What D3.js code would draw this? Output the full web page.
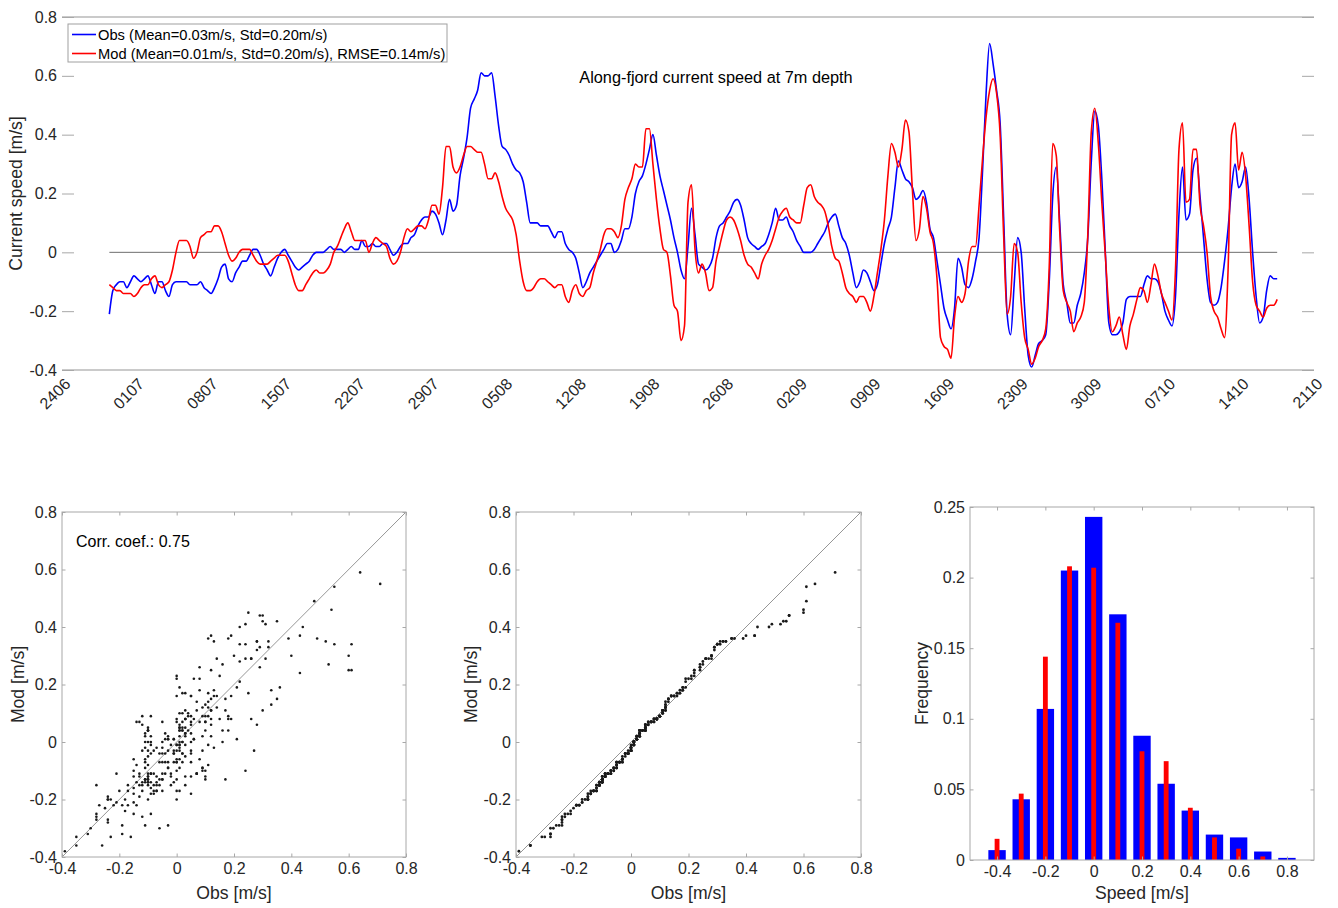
<!DOCTYPE html>
<html>
<head>
<meta charset="utf-8">
<script src="https://cdn.jsdelivr.net/npm/d3@7"></script>
<style>
  html, body { margin: 0; padding: 0; background: #fff; }
  svg { display: block; font-family: "Liberation Sans", Arial, Helvetica, sans-serif; }
</style>
</head>
<body>
<svg id="fig" width="1338" height="908"></svg>
<script>
// ---------------- data ----------------
// Along-fjord current at 7 m depth, sampled every 8 hours.
// Time axis is counted in days from 24 June.
const sampleStartDay = 4.5;
const samplesPerDay = 3;

const obsSpeed = [
  -0.21,-0.13,-0.11,-0.10,-0.10,-0.12,-0.10,-0.08,-0.09,-0.10,
  -0.09,-0.08,-0.11,-0.14,-0.10,-0.10,-0.13,-0.15,-0.11,-0.10,
  -0.10,-0.10,-0.10,-0.11,-0.11,-0.11,-0.10,-0.12,-0.13,-0.14,
  -0.12,-0.09,-0.05,-0.04,-0.09,-0.10,-0.07,-0.05,-0.03,-0.03,
  -0.01,0.01,0.01,-0.01,-0.04,-0.06,-0.08,-0.05,-0.02,0.00,
  0.01,-0.01,-0.03,-0.05,-0.06,-0.05,-0.04,-0.03,-0.01,0.00,
  0.00,0.00,0.01,0.02,0.01,0.01,0.01,0.00,0.01,0.02,
  0.01,0.01,0.04,0.02,0.02,0.03,0.02,0.02,0.03,0.03,
  0.01,-0.01,0.00,0.02,0.03,0.03,0.05,0.06,0.09,0.11,
  0.12,0.12,0.14,0.13,0.10,0.06,0.11,0.18,0.14,0.16,
  0.26,0.32,0.39,0.49,0.52,0.55,0.61,0.60,0.60,0.61,
  0.53,0.43,0.36,0.35,0.33,0.30,0.28,0.27,0.24,0.17,
  0.10,0.10,0.10,0.09,0.09,0.09,0.07,0.05,0.07,0.07,
  0.03,0.01,0.00,-0.02,-0.07,-0.12,-0.10,-0.07,-0.05,-0.03,
  -0.01,0.01,0.03,0.03,0.00,0.01,0.04,0.08,0.08,0.12,
  0.20,0.24,0.26,0.30,0.35,0.40,0.33,0.26,0.21,0.16,
  0.11,0.05,0.00,-0.06,-0.09,0.02,0.15,0.06,-0.04,-0.05,
  -0.06,-0.05,-0.02,0.05,0.09,0.10,0.12,0.14,0.17,0.18,
  0.16,0.11,0.05,0.03,0.02,0.01,0.02,0.03,0.06,0.10,
  0.15,0.11,0.11,0.12,0.09,0.07,0.04,0.02,0.00,0.00,
  0.00,0.01,0.03,0.05,0.07,0.10,0.12,0.13,0.09,0.05,
  0.03,-0.01,-0.07,-0.12,-0.10,-0.06,-0.07,-0.10,-0.13,-0.11,
  -0.04,0.03,0.08,0.12,0.22,0.31,0.28,0.25,0.24,0.22,
  0.18,0.19,0.21,0.17,0.08,0.05,-0.03,-0.11,-0.19,-0.23,
  -0.26,-0.19,-0.02,-0.05,-0.11,-0.12,-0.09,-0.03,0.05,0.28,
  0.54,0.71,0.64,0.55,0.44,0.12,-0.21,-0.28,-0.11,0.05,
  0.00,-0.19,-0.35,-0.39,-0.35,-0.31,-0.30,-0.28,-0.10,0.19,
  0.29,0.10,-0.11,-0.17,-0.24,-0.24,-0.18,-0.14,-0.07,0.05,
  0.31,0.48,0.43,0.25,0.00,-0.24,-0.28,-0.28,-0.27,-0.24,
  -0.16,-0.15,-0.15,-0.15,-0.15,-0.11,-0.08,-0.09,-0.09,-0.10,
  -0.14,-0.20,-0.23,-0.25,-0.15,0.13,0.29,0.11,0.13,0.28,
  0.32,0.19,0.05,-0.09,-0.17,-0.18,-0.17,-0.12,-0.03,0.08,
  0.22,0.30,0.22,0.24,0.29,0.18,0.00,-0.15,-0.24,-0.22,
  -0.13,-0.08,-0.09,-0.09
];

const modSpeed = [
  -0.11,-0.12,-0.13,-0.13,-0.14,-0.14,-0.14,-0.15,-0.14,-0.12,
  -0.11,-0.11,-0.09,-0.08,-0.11,-0.12,-0.11,-0.10,-0.06,0.00,
  0.04,0.04,0.04,0.02,-0.02,0.00,0.05,0.06,0.07,0.07,
  0.09,0.09,0.07,0.03,-0.01,-0.03,-0.02,0.00,0.01,0.01,
  0.01,-0.01,-0.03,-0.04,-0.04,-0.04,-0.03,-0.02,-0.01,-0.01,
  -0.01,-0.03,-0.07,-0.11,-0.13,-0.13,-0.11,-0.09,-0.07,-0.06,
  -0.07,-0.07,-0.06,-0.04,0.00,0.02,0.05,0.08,0.10,0.07,
  0.04,0.04,0.04,0.04,0.00,0.03,0.05,0.04,0.03,0.02,
  -0.02,-0.04,-0.03,0.00,0.05,0.08,0.07,0.08,0.09,0.09,
  0.08,0.11,0.16,0.16,0.13,0.22,0.36,0.36,0.29,0.27,
  0.29,0.33,0.36,0.36,0.35,0.34,0.34,0.30,0.25,0.25,
  0.27,0.24,0.19,0.15,0.13,0.11,0.06,-0.03,-0.10,-0.13,
  -0.13,-0.12,-0.10,-0.09,-0.09,-0.10,-0.11,-0.12,-0.11,-0.11,
  -0.15,-0.17,-0.13,-0.11,-0.14,-0.15,-0.13,-0.12,-0.07,-0.03,
  0.01,0.06,0.08,0.08,0.07,0.05,0.09,0.18,0.22,0.25,
  0.30,0.29,0.29,0.42,0.42,0.30,0.18,0.08,0.01,0.00,
  -0.08,-0.18,-0.20,-0.30,-0.25,0.17,0.23,0.01,-0.07,-0.04,
  -0.07,-0.13,-0.12,-0.03,0.02,0.07,0.11,0.12,0.11,0.08,
  0.04,-0.01,-0.04,-0.05,-0.07,-0.09,-0.04,-0.01,0.01,0.04,
  0.08,0.12,0.14,0.15,0.12,0.11,0.10,0.10,0.16,0.22,
  0.23,0.19,0.17,0.16,0.14,0.09,0.02,-0.02,-0.03,-0.07,
  -0.12,-0.14,-0.15,-0.17,-0.15,-0.15,-0.17,-0.20,-0.15,-0.07,
  0.01,0.11,0.26,0.37,0.34,0.29,0.35,0.45,0.41,0.21,
  0.04,0.08,0.19,0.15,0.07,0.03,-0.09,-0.29,-0.32,-0.33,
  -0.36,-0.22,-0.15,-0.17,-0.14,-0.03,0.02,0.02,0.16,0.32,
  0.46,0.55,0.59,0.54,0.40,0.06,-0.21,-0.15,0.03,0.00,
  -0.17,-0.29,-0.33,-0.38,-0.36,-0.32,-0.30,-0.26,-0.05,0.37,
  0.33,0.07,-0.13,-0.17,-0.20,-0.27,-0.24,-0.22,-0.17,0.06,
  0.41,0.49,0.37,0.17,-0.01,-0.19,-0.27,-0.25,-0.22,-0.28,
  -0.33,-0.25,-0.21,-0.16,-0.12,-0.13,-0.17,-0.11,-0.04,-0.08,
  -0.14,-0.17,-0.20,-0.23,-0.06,0.35,0.44,0.17,0.18,0.35,
  0.35,0.16,0.09,0.00,-0.15,-0.20,-0.22,-0.26,-0.29,-0.06,
  0.40,0.44,0.28,0.34,0.26,0.09,-0.10,-0.18,-0.20,-0.22,
  -0.19,-0.18,-0.18,-0.16
];

// Weekly date ticks (ddmm), first one is 24 June
const weekTicks = ["2406","0107","0807","1507","2207","2907","0508","1208","1908",
                   "2608","0209","0909","1609","2309","3009","0710","1410","2110"];
const speedTicks = [-0.4, -0.2, 0, 0.2, 0.4, 0.6, 0.8];

// Histogram of speeds (relative frequency per 0.1 m/s bin)
const histBins = [-0.4, -0.3, -0.2, -0.1, 0, 0.1, 0.2, 0.3, 0.4, 0.5, 0.6, 0.7, 0.8];
const obsFreq  = [0.007, 0.043, 0.107, 0.205, 0.243, 0.174, 0.088, 0.054, 0.035, 0.018, 0.016, 0.006, 0.0015];
const modFreq  = [0.015, 0.047, 0.144, 0.208, 0.207, 0.168, 0.077, 0.070, 0.037, 0.016, 0.008, 0.0025, 0];
const freqTicks = [0, 0.05, 0.1, 0.15, 0.2, 0.25];
const histXTicks = [-0.4, -0.2, 0, 0.2, 0.4, 0.6, 0.8];

// ---------------- style ----------------
const FONT = '"Liberation Sans", Arial, Helvetica, sans-serif';
const tickCol = "#262626";
const frameCol = "#a8a8a8";
const obsCol = "#0000ff";
const modCol = "#ff0000";

const svg = d3.select("#fig");

function styleAxis(g, size) {
  g.attr("font-family", FONT).attr("font-size", size);
  g.selectAll(".tick line").attr("stroke", frameCol);
  g.selectAll(".tick text").attr("fill", tickCol);
  g.select(".domain").remove();
}

// ---------------- time series ----------------
const dayOf = i => sampleStartDay + i / samplesPerDay;
const xT = d3.scaleLinear().domain([0, 119]).range([62, 1314]);
const yT = d3.scaleLinear().domain([-0.4, 0.8]).range([370, 17]);

const tsPanel = svg.append("g");

// frame: top and bottom rules
[0.8, -0.4].forEach(v => {
  tsPanel.append("line")
    .attr("x1", xT(0)).attr("x2", xT(119))
    .attr("y1", yT(v)).attr("y2", yT(v))
    .attr("stroke", "#b8b8b8").attr("stroke-width", 1.3);
});

tsPanel.append("g").attr("transform", `translate(${xT(0)},0)`)
  .call(d3.axisLeft(yT).tickValues(speedTicks).tickFormat(String)
        .tickSizeInner(-12).tickSizeOuter(0).tickPadding(5))
  .call(g => styleAxis(g, 16));
tsPanel.append("g").attr("transform", `translate(${xT(119)},0)`)
  .call(d3.axisRight(yT).tickValues(speedTicks).tickFormat("")
        .tickSizeInner(-12).tickSizeOuter(0))
  .call(g => styleAxis(g, 16));

const weekDays = weekTicks.map((_, k) => 7 * k);
tsPanel.append("g").attr("transform", `translate(0,${yT(-0.4)})`)
  .call(d3.axisBottom(xT).tickValues(weekDays).tickFormat((d, k) => weekTicks[k]).tickSize(0))
  .call(g => styleAxis(g, 16))
  .call(g => g.selectAll(".tick text")
    .attr("x", 0).attr("y", 0).attr("dy", "0.35em")
    .attr("text-anchor", "end")
    .attr("transform", "translate(5,11) rotate(-45)"));

// zero reference over the record
const nT = obsSpeed.length;
tsPanel.append("line")
  .attr("x1", xT(dayOf(0))).attr("x2", xT(dayOf(nT - 1)))
  .attr("y1", yT(0)).attr("y2", yT(0))
  .attr("stroke", "#6e6e6e").attr("stroke-width", 1);

const tsLine = d3.line()
  .x((d, i) => xT(dayOf(i)))
  .y(d => yT(d))
  .curve(d3.curveMonotoneX);

tsPanel.append("path").datum(obsSpeed)
  .attr("d", tsLine).attr("fill", "none")
  .attr("stroke", obsCol).attr("stroke-width", 1.6).attr("stroke-linejoin", "round");
tsPanel.append("path").datum(modSpeed)
  .attr("d", tsLine).attr("fill", "none")
  .attr("stroke", modCol).attr("stroke-width", 1.6).attr("stroke-linejoin", "round");

tsPanel.append("text")
  .attr("x", 716).attr("y", 76.5)
  .attr("text-anchor", "middle").attr("dominant-baseline", "central")
  .attr("font-family", FONT).attr("font-size", 16.3).attr("fill", "#000")
  .text("Along-fjord current speed at 7m depth");

tsPanel.append("text")
  .attr("transform", `translate(16,${(yT(0.8) + yT(-0.4)) / 2}) rotate(-90)`)
  .attr("text-anchor", "middle").attr("dominant-baseline", "central")
  .attr("font-family", FONT).attr("font-size", 17.6).attr("fill", tickCol)
  .text("Current speed [m/s]");

// legend
const legend = tsPanel.append("g").attr("transform", "translate(68,24)");
legend.append("rect").attr("width", 379).attr("height", 38)
  .attr("fill", "#fff").attr("stroke", "#a0a0a0").attr("stroke-width", 1);
const legendItems = [
  { col: obsCol, label: "Obs (Mean=0.03m/s, Std=0.20m/s)" },
  { col: modCol, label: "Mod (Mean=0.01m/s, Std=0.20m/s), RMSE=0.14m/s)" }
];
legendItems.forEach((it, k) => {
  const yy = 10.5 + k * 19;
  legend.append("line").attr("x1", 4).attr("x2", 28).attr("y1", yy).attr("y2", yy)
    .attr("stroke", it.col).attr("stroke-width", 1.6);
  legend.append("text").attr("x", 30).attr("y", yy)
    .attr("dominant-baseline", "central")
    .attr("font-family", FONT).attr("font-size", 14.7).attr("fill", "#000")
    .text(it.label);
});

// ---------------- shared helpers for the lower panels ----------------
function framedAxes(g, xs, ys, xTicks, yTicks) {
  const [x0, x1] = xs.range();
  const [y0, y1] = ys.range(); // y0 bottom, y1 top
  g.append("g").attr("transform", `translate(0,${y0})`)
    .call(d3.axisBottom(xs).tickValues(xTicks).tickFormat(String)
          .tickSizeInner(-3.5).tickSizeOuter(0).tickPadding(6))
    .call(a => styleAxis(a, 16));
  g.append("g").attr("transform", `translate(0,${y1})`)
    .call(d3.axisTop(xs).tickValues(xTicks).tickFormat("")
          .tickSizeInner(-3.5).tickSizeOuter(0))
    .call(a => styleAxis(a, 16));
  g.append("g").attr("transform", `translate(${x0},0)`)
    .call(d3.axisLeft(ys).tickValues(yTicks).tickFormat(String)
          .tickSizeInner(-3.5).tickSizeOuter(0).tickPadding(5))
    .call(a => styleAxis(a, 16));
  g.append("g").attr("transform", `translate(${x1},0)`)
    .call(d3.axisRight(ys).tickValues(yTicks).tickFormat("")
          .tickSizeInner(-3.5).tickSizeOuter(0))
    .call(a => styleAxis(a, 16));
  g.append("rect")
    .attr("x", x0).attr("y", y1).attr("width", x1 - x0).attr("height", y0 - y1)
    .attr("fill", "none").attr("stroke", frameCol).attr("stroke-width", 1);
}

function axisLabels(g, xs, ys, xLabel, yLabel, yLabelX) {
  const [x0, x1] = xs.range();
  const [y0, y1] = ys.range();
  g.append("text")
    .attr("x", (x0 + x1) / 2).attr("y", 893)
    .attr("text-anchor", "middle").attr("dominant-baseline", "central")
    .attr("font-family", FONT).attr("font-size", 17.6).attr("fill", tickCol)
    .text(xLabel);
  g.append("text")
    .attr("transform", `translate(${yLabelX},${(y0 + y1) / 2}) rotate(-90)`)
    .attr("text-anchor", "middle").attr("dominant-baseline", "central")
    .attr("font-family", FONT).attr("font-size", 17.6).attr("fill", tickCol)
    .text(yLabel);
}

function oneToOne(g, xs, ys) {
  g.append("line")
    .attr("x1", xs(-0.4)).attr("y1", ys(-0.4))
    .attr("x2", xs(0.8)).attr("y2", ys(0.8))
    .attr("stroke", "#8a8a8a").attr("stroke-width", 0.9);
}

// ---------------- scatter: Obs vs Mod ----------------
const sc = svg.append("g");
const xS = d3.scaleLinear().domain([-0.4, 0.8]).range([62, 406]);
const yS = d3.scaleLinear().domain([-0.4, 0.8]).range([857, 512]);
const pairs = obsSpeed.map((o, i) => [o, modSpeed[i]]);

oneToOne(sc, xS, yS);
sc.append("g").selectAll("circle").data(pairs).join("circle")
  .attr("cx", d => xS(d[0])).attr("cy", d => yS(d[1]))
  .attr("r", 1.3).attr("fill", "#1a1a1a");
framedAxes(sc, xS, yS, speedTicks, speedTicks);
axisLabels(sc, xS, yS, "Obs [m/s]", "Mod [m/s]", 17.5);
sc.append("text")
  .attr("x", 76).attr("y", 541.5).attr("dominant-baseline", "central")
  .attr("font-family", FONT).attr("font-size", 16).attr("fill", "#000")
  .text("Corr. coef.: 0.75");

// ---------------- quantile-quantile ----------------
const qq = svg.append("g");
const xQ = d3.scaleLinear().domain([-0.4, 0.8]).range([516, 861]);
const yQ = d3.scaleLinear().domain([-0.4, 0.8]).range([857, 512]);
const obsSorted = obsSpeed.slice().sort(d3.ascending);
const modSorted = modSpeed.slice().sort(d3.ascending);
const qPairs = obsSorted.map((o, i) => [o, modSorted[i]]);

oneToOne(qq, xQ, yQ);
qq.append("g").selectAll("circle").data(qPairs).join("circle")
  .attr("cx", d => xQ(d[0])).attr("cy", d => yQ(d[1]))
  .attr("r", 1.4).attr("fill", "#1a1a1a");
framedAxes(qq, xQ, yQ, speedTicks, speedTicks);
axisLabels(qq, xQ, yQ, "Obs [m/s]", "Mod [m/s]", 470.5);

// ---------------- histogram ----------------
const hs = svg.append("g");
const xH = d3.scaleLinear().domain([-0.512, 0.912]).range([970, 1314]);
const yH = d3.scaleLinear().domain([0, 0.25]).range([860, 507]);

hs.append("g").selectAll("rect").data(histBins).join("rect")
  .attr("x", d => xH(d - 0.036))
  .attr("width", d => xH(d + 0.036) - xH(d - 0.036))
  .attr("y", (d, i) => yH(obsFreq[i]))
  .attr("height", (d, i) => yH(0) - yH(obsFreq[i]))
  .attr("fill", obsCol);
hs.append("g").selectAll("rect").data(histBins).join("rect")
  .attr("x", d => xH(d - 0.01))
  .attr("width", d => xH(d + 0.01) - xH(d - 0.01))
  .attr("y", (d, i) => yH(modFreq[i]))
  .attr("height", (d, i) => yH(0) - yH(modFreq[i]))
  .attr("fill", modCol);
framedAxes(hs, xH, yH, histXTicks, freqTicks);
axisLabels(hs, xH, yH, "Speed [m/s]", "Frequency", 921.5);
</script>
</body>
</html>
